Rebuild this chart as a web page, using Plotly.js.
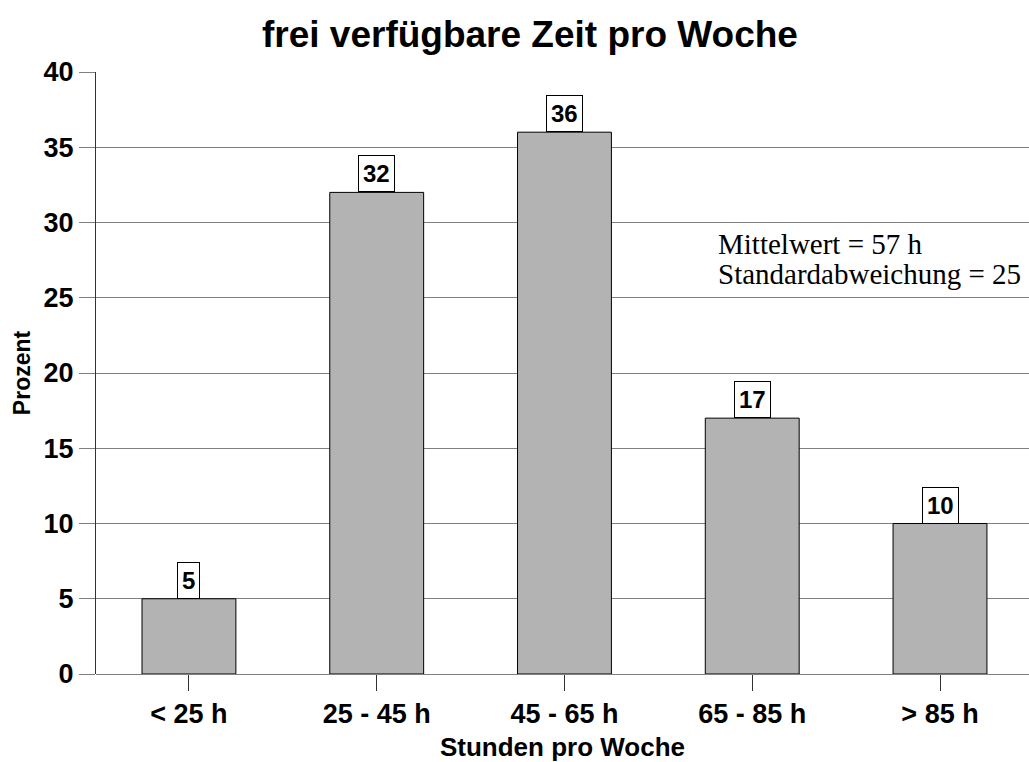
<!DOCTYPE html>
<html>
<head>
<meta charset="utf-8">
<script src="https://cdn.plot.ly/plotly-3.0.1.min.js"></script>
<style>html,body{margin:0;padding:0;background:#fff;}#chart{width:1029px;height:762px;}</style>
</head>
<body>
<div id="chart"></div>
<script>
const categories = ["< 25 h", "25 - 45 h", "45 - 65 h", "65 - 85 h", "> 85 h"];
const percent = [5, 32, 36, 17, 10];
const yTicks = [0, 5, 10, 15, 20, 25, 30, 35, 40];
const statLines = ["Mittelwert = 57 h", "Standardabweichung = 25"];

const xIdx = categories.map((c, i) => i);
const SANS = 'Liberation Sans, Arial, sans-serif';

const trace = {
  type: 'bar',
  x: xIdx,
  y: percent,
  width: 0.5,
  marker: {color: '#b3b3b3', line: {color: '#000', width: 1}},
  hoverinfo: 'skip'
};

const valueLabels = percent.map((v, i) => ({
  x: i, y: v, xref: 'x', yref: 'y',
  text: String(v), showarrow: false,
  xanchor: 'center', yanchor: 'bottom',
  font: {family: SANS, size: 24, color: '#000', weight: 'bold'},
  bgcolor: '#fff', bordercolor: '#000', borderwidth: 1, borderpad: 4
}));

const statY = [0.742, 0.692];
const statAnn = statLines.map((t, i) => ({
  x: 0.666, y: statY[i], xref: 'paper', yref: 'paper',
  text: t, showarrow: false, xanchor: 'left', yanchor: 'top', align: 'left',
  font: {family: 'Liberation Serif, Times New Roman, serif', size: 29, color: '#000'},
  borderpad: 0
}));

const layout = {
  width: 1029, height: 762,
  margin: {l: 96, r: 0, t: 72, b: 88},
  paper_bgcolor: '#fff', plot_bgcolor: '#fff',
  showlegend: false,
  title: {
    text: 'frei verfügbare Zeit pro Woche',
    font: {family: SANS, size: 37, color: '#000', weight: 'bold'},
    x: 0.515, xref: 'container', xanchor: 'center',
    y: 1 - 34/762, yref: 'container', yanchor: 'middle'
  },
  xaxis: {
    range: [-0.495, 4.474],
    tickmode: 'array', tickvals: xIdx, ticktext: categories,
    ticks: 'outside', ticklen: 16, tickcolor: '#333', tickwidth: 1,
    showgrid: false, zeroline: false, showline: false,
    tickfont: {family: SANS, size: 27, color: '#000', weight: 'bold'},
    title: {text: 'Stunden pro Woche', standoff: 10,
      font: {family: SANS, size: 26, color: '#000', weight: 'bold'}},
    fixedrange: true
  },
  yaxis: {
    range: [0, 40],
    tickmode: 'array', tickvals: yTicks,
    ticks: 'outside', ticklen: 16, tickcolor: '#808080', tickwidth: 1,
    showgrid: true, gridcolor: '#808080', gridwidth: 1,
    zeroline: true, zerolinecolor: '#808080', zerolinewidth: 1,
    showline: true, linecolor: '#333', linewidth: 1,
    tickfont: {family: SANS, size: 27, color: '#000', weight: 'bold'},
    title: {text: 'Prozent', standoff: 6,
      font: {family: SANS, size: 23, color: '#000', weight: 'bold'}},
    fixedrange: true
  },
  annotations: valueLabels.concat(statAnn)
};

Plotly.newPlot('chart', [trace], layout, {displayModeBar: false, staticPlot: true});
</script>
</body>
</html>
